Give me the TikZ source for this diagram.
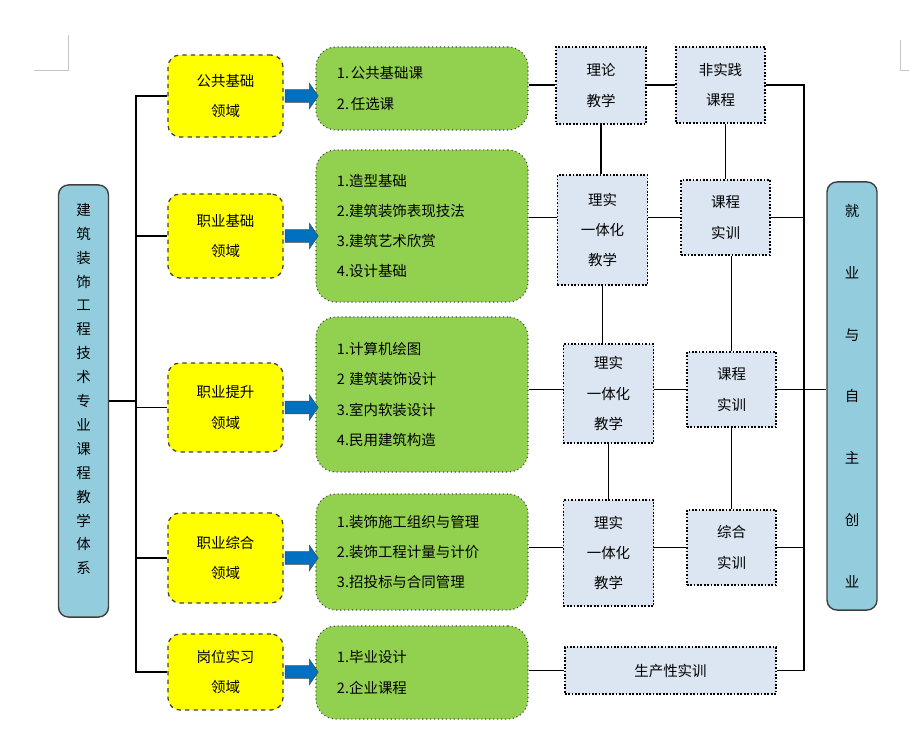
\documentclass[tikz,border=0pt]{standalone}
\usepackage{fontspec}
\setmainfont{Noto Sans CJK SC}
\usetikzlibrary{shapes.arrows}

\definecolor{sideblue}{HTML}{93CDDD}
\definecolor{fieldyellow}{HTML}{FFFF00}
\definecolor{coursegreen}{HTML}{92D050}
\definecolor{modegrey}{HTML}{DCE6F2}
\definecolor{arrowblue}{HTML}{0070C0}

\begin{document}
\begin{tikzpicture}[x=0.025cm,y=-0.025cm,
	font=\fontsize{10.3}{21.5}\selectfont,
	side/.style={draw=black!75, line width=1pt, fill=sideblue, rounded corners=0.25cm, minimum width=1.25cm, align=center, inner sep=0pt},
	field/.style={draw=black!75, dashed, line width=0.9pt, fill=fieldyellow, rounded corners=0.3cm, minimum width=2.875cm, align=center, inner sep=0pt},
	course/.style={draw=black!70, dotted, line width=0.8pt, fill=coursegreen, rounded corners=0.5cm, text width=4.25cm, inner xsep=0.525cm, inner ysep=0pt, align=left},
	mode/.style={draw=black, dash pattern=on 1.2pt off 1.2pt, line width=1.2pt, fill=modegrey, minimum width=2.25cm, align=center, inner sep=0pt},
	blockarrow/.style={single arrow, draw=black!70, fill=arrowblue, minimum height=0.825cm, single arrow head extend=0.16cm, single arrow tip angle=110, inner xsep=0pt, inner ysep=0.15cm},
	link/.style={line width=1.4pt}]
	\useasboundingbox (0,0) rectangle (909,734);
	%page corner marks
	\draw[gray!45, line width=0.5pt] (34,70) -- (68,70) -- (68,35);
	\draw[gray!45, line width=0.5pt] (900,40) -- (900,70) -- (909,70);
	\coordinate (trunk) at (136,0);
	\coordinate (bus) at (804,0);

	% left and right columns
	\node[side, minimum height=10.8cm] (l) at (83.5,401) {};
	\node[font=\fontsize{10.3}{17}\selectfont, align=center] (ltext) at (83.5,389) {建\\筑\\装\\饰\\工\\程\\技\\术\\专\\业\\课\\程\\教\\学\\体\\系};
	\node[side, minimum height=10.7cm, font=\fontsize{10.3}{44}\selectfont] (r) at (852,396) {就\\业\\与\\自\\主\\创\\业};

	% fields
	\node[field, minimum height=2.05cm] (y1) at (225.5,96) {公共基础\\领域};
	\node[field, minimum height=2.1cm] (y2) at (225.5,236) {职业基础\\领域};
	\node[field, minimum height=2.225cm] (y3) at (225.5,407.5) {职业提升\\领域};
	\node[field, minimum height=2.25cm] (y4) at (225.5,558) {职业综合\\领域};
	\node[field, minimum height=1.9cm] (y5) at (225.5,672) {岗位实习\\领域};

	% courses
	\node[course, minimum height=2.075cm] (g1) at (422,88.5) {1.\hspace{0.12em}公共基础课\\2.\hspace{0.12em}任选课};
	\node[course, minimum height=3.8cm] (g2) at (422,226) {1.造型基础\\2.建筑装饰表现技法\\3.建筑艺术欣赏\\4.设计基础};
	\node[course, minimum height=3.875cm] (g3) at (422,394.5) {1.计算机绘图\\2\hspace{0.3em}建筑装饰设计\\3.室内软装设计\\4.民用建筑构造};
	\node[course, minimum height=2.9cm] (g4) at (422,552) {1.装饰施工组织与管理\\2.装饰工程计量与计价\\3.招投标与合同管理};
	\node[course, minimum height=2.325cm] (g5) at (422,672.5) {1.毕业设计\\2.企业课程};

	% teaching modes
	\node[mode, minimum height=1.925cm] (a1) at (601,85.5) {理论\\教学};
	\node[mode, minimum height=1.9cm, minimum width=2.225cm] (b1) at (720.5,85) {非实践\\课程};
	\node[mode, minimum height=2.75cm] (a2) at (602.5,230) {理实\\一体化\\教学};
	\node[mode, minimum height=1.875cm, minimum width=2.225cm] (b2) at (725.5,217.5) {课程\\实训};
	\node[mode, minimum height=2.475cm] (a3) at (608.5,393.5) {理实\\一体化\\教学};
	\node[mode, minimum height=1.875cm, minimum width=2.225cm] (b3) at (731.5,389.5) {课程\\实训};
	\node[mode, minimum height=2.65cm] (a4) at (608.5,553) {理实\\一体化\\教学};
	\node[mode, minimum height=1.875cm, minimum width=2.225cm] (b4) at (731.5,547.5) {综合\\实训};
	\node[mode, minimum height=1.175cm, minimum width=5.275cm] (c5) at (670.5,670.5) {生产性实训};

	% arrows
	\foreach \i in {1,...,5}
		\path (y\i.east) -- (y\i.east -| g\i.west) node[midway, blockarrow] (arr\i) {};

	% links
	\draw[link] (l.east) -- (l.east -| trunk);
	\draw[link] (y1.west) -- (y1.west -| trunk) -- (y5.west -| trunk) -- (y5.west);
	\foreach \n in {y2,y3,y4}
		\draw[link] (\n.west) -- (\n.west -| trunk);
	\foreach \i in {1,...,4}{
		\draw[link] (g\i.east |- b\i.west) -- (a\i.west |- b\i.west);
		\draw[link] (a\i.east |- b\i.west) -- (b\i.west);
	}
	\draw[link] (g5.east |- c5.west) -- (c5.west);
	\draw[link] (a1.south) -- (a1.south |- a2.north);
	\draw[link] (a2.south) -- (a2.south |- a3.north);
	\draw[link] (a3.south) -- (a3.south |- a4.north);
	\draw[link] (b2.north) -- (b2.north |- b1.south);
	\draw[link] (b3.north) -- (b3.north |- b2.south);
	\draw[link] (b3.south) -- (b3.south |- b4.north);
	\draw[link] (b1.east) -- (b1.east -| bus) -- (c5.east -| bus) -- (c5.east);
	\foreach \n in {b2,b4}
		\draw[link] (\n.east) -- (\n.east -| bus);
	\draw[link] (b3.east) -- (b3.east -| r.west);
\end{tikzpicture}
\end{document}
